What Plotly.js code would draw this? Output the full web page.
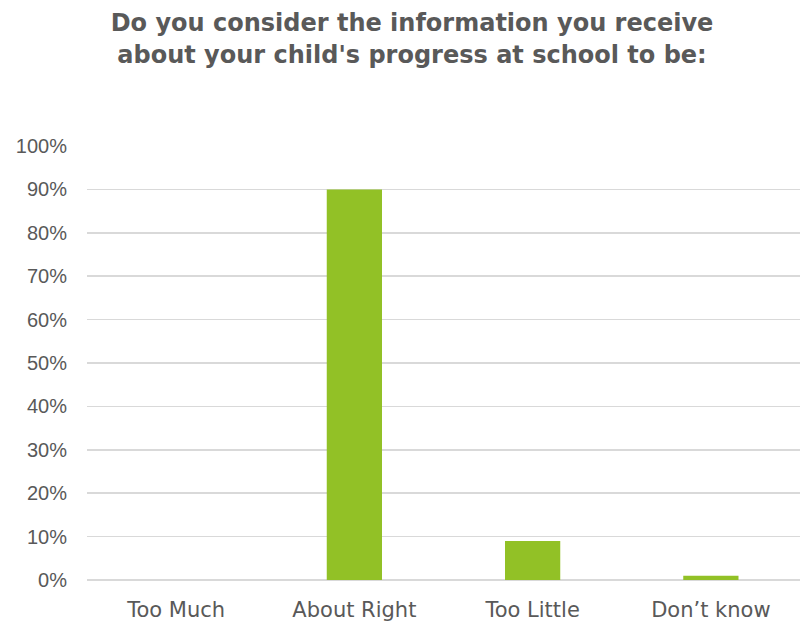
<!DOCTYPE html>
<html>
<head>
<meta charset="utf-8">
<script src="https://cdn.plot.ly/plotly-3.0.1.min.js"></script>
<style>html,body{margin:0;padding:0;background:#fff;}#chart{width:800px;height:626px;}</style>
</head>
<body>
<div id="chart"></div>
<script>
var categories = ["Too Much", "About Right", "Too Little", "Don\u2019t know"];
var percentValues = [0, 90, 9, 1];
var yTickValues = [0, 10, 20, 30, 40, 50, 60, 70, 80, 90, 100];
var yTickLabels = ["0%", "10%", "20%", "30%", "40%", "50%", "60%", "70%", "80%", "90%", "100%"];
var chartTitle = "Do you consider the information you receive<br>about your child's progress at school to be:";

var trace = {
  type: "bar",
  x: categories,
  y: percentValues,
  marker: {color: "#92C126"},
  width: 0.31,
  hoverinfo: "x+y"
};

var layout = {
  width: 800,
  height: 626,
  margin: {l: 87, r: 0, t: 146, b: 46},
  paper_bgcolor: "#ffffff",
  plot_bgcolor: "#ffffff",
  showlegend: false,
  title: {
    text: "<b>" + chartTitle + "</b>",
    font: {family: "DejaVu Sans", size: 24, color: "#595959"},
    x: 0.515,
    xref: "container",
    xanchor: "center",
    y: 0.95,
    yref: "container",
    yanchor: "top"
  },
  font: {family: "DejaVu Sans", color: "#595959"},
  xaxis: {
    type: "category",
    tickfont: {family: "DejaVu Sans", size: 21, color: "#595959"},
    showgrid: false,
    zeroline: false,
    showline: false,
    ticks: "",
    ticklabelstandoff: 15,
    fixedrange: true
  },
  yaxis: {
    range: [0, 100],
    tickvals: yTickValues,
    ticktext: yTickLabels,
    tickfont: {family: "Liberation Sans", size: 20, color: "#595959"},
    showgrid: true,
    gridcolor: "#D9D9D9",
    gridwidth: 1.5,
    zeroline: true,
    zerolinecolor: "#D9D9D9",
    zerolinewidth: 1.5,
    showline: false,
    ticks: "",
    ticklabelstandoff: 19,
    fixedrange: true
  }
};

Plotly.newPlot("chart", [trace], layout, {displayModeBar: false, staticPlot: true});
</script>
</body>
</html>
